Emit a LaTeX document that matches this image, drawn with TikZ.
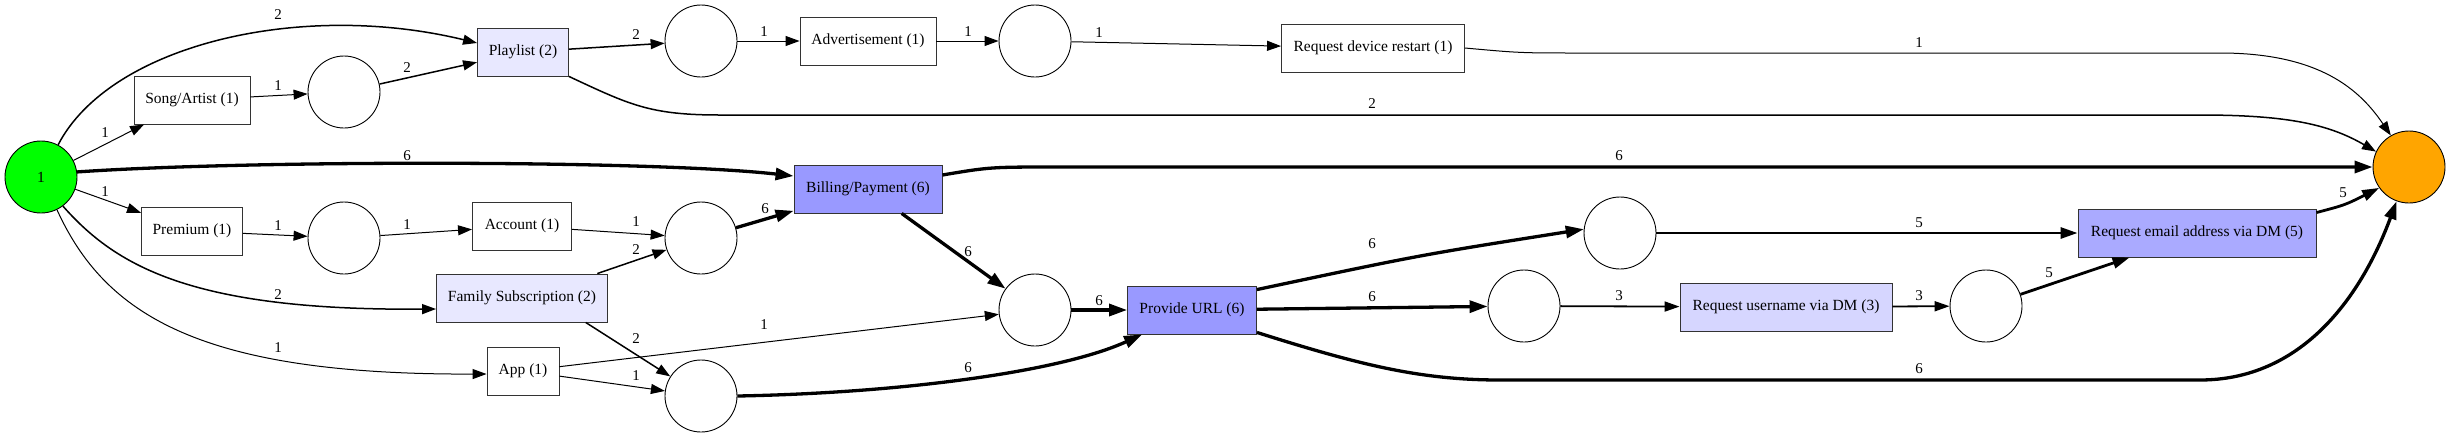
\documentclass[tikz,border=0pt]{standalone}
\usepackage{fontspec}
\setmainfont{Liberation Serif}
\usetikzlibrary{arrows.meta}
\definecolor{startgreen}{HTML}{00FF00}
\definecolor{endorange}{HTML}{FFA500}
\definecolor{freqsix}{HTML}{9999FF}
\definecolor{freqfive}{HTML}{AAAAFF}
\definecolor{freqthree}{HTML}{D6D6FF}
\definecolor{freqtwo}{HTML}{E8E8FF}
\tikzset{
  trans/.style={draw=black!80,line width=0.9pt,rectangle,minimum height=48pt,inner sep=2pt,fill=white},
  place/.style={draw,circle,line width=0.9pt,minimum size=72pt,inner sep=0pt,fill=white},
  lbl/.style={inner sep=1pt,font=\fontsize{15}{17}\selectfont},
  w1/.style={line width=1pt,-{Triangle[length=14pt,width=10pt]}},
  w2/.style={line width=1.5pt,-{Triangle[length=14pt,width=10pt]}},
  w3/.style={line width=1.8pt,-{Triangle[length=15pt,width=10pt]}},
  w5/.style={line width=2.8pt,-{Triangle[length=17pt,width=11pt]}},
  w6/.style={line width=3.3pt,-{Triangle[length=18pt,width=12pt]}}
}
\begin{document}
\begin{tikzpicture}[x=1pt,y=-1pt,font=\fontsize{15.5}{18}\selectfont]
  \useasboundingbox (0,0) rectangle (2451,437);
  \node[place,fill=startgreen] (src) at (41,177) {1};
  \node[trans,minimum width=116pt] (song) at (192,100) {Song/Artist (1)};
  \node[place] (pa) at (344,92) {};
  \node[trans,fill=freqtwo,minimum width=91pt] (play) at (523,52) {Playlist (2)};
  \node[trans,minimum width=101pt] (prem) at (192,231) {Premium (1)};
  \node[place] (pb) at (344,238) {};
  \node[trans,minimum width=99pt] (acct) at (522,226) {Account (1)};
  \node[trans,fill=freqtwo,minimum width=171pt] (fam) at (522,298) {Family Subscription (2)};
  \node[trans,minimum width=72pt] (app) at (523,371) {App (1)};
  \node[place] (pc) at (701,41) {};
  \node[trans,minimum width=136pt] (adv) at (868,41) {Advertisement (1)};
  \node[place] (pd) at (701,238) {};
  \node[trans,fill=freqsix,minimum width=148pt] (bill) at (868,189) {Billing/Payment (6)};
  \node[place] (pe) at (701,396) {};
  \node[place] (pf) at (1035,41) {};
  \node[trans,minimum width=183pt] (restart) at (1373,48) {Request device restart (1)};
  \node[place] (pg) at (1035,310) {};
  \node[trans,fill=freqsix,minimum width=129pt] (url) at (1192,310) {Provide URL (6)};
  \node[place] (ph) at (1620,233) {};
  \node[place] (pi) at (1524,306) {};
  \node[trans,fill=freqthree,minimum width=212pt] (user) at (1786,307) {Request username via DM (3)};
  \node[place] (pj) at (1986,306) {};
  \node[trans,fill=freqfive,minimum width=238pt] (email) at (2197,233) {Request email address via DM (5)};
  \node[place,fill=endorange] (sink) at (2409,167) {};

  \draw[w2] (src.62) .. controls (110,45) and (300,0) .. ([yshift=9pt]play.west);
  \node[lbl] (f1) at (278,15) {2};
  \draw[w1] (src) -- (song);
  \node[lbl] (f2) at (105,133) {1};
  \draw[w6] (src.8) .. controls (250,160) and (650,160) .. ([yshift=13pt]bill.west);
  \node[lbl] (f3) at (407,156) {6};
  \draw[w1] (src) -- (prem);
  \node[lbl] (f4) at (105,192) {1};
  \draw[w2] (src.-53) .. controls (115,265) and (190,311) .. ([yshift=-11pt]fam.west);
  \node[lbl] (f5) at (278,295) {2};
  \draw[w1] (src.-64) .. controls (105,315) and (200,375) .. ([yshift=-3pt]app.west);
  \node[lbl] (f6) at (278,348) {1};
  \draw[w1] (song) -- (pa);
  \node[lbl] (f7) at (278,86) {1};
  \draw[w2] (pa) -- (play);
  \node[lbl] (f8) at (407,68) {2};
  \draw[w1] (prem) -- (pb);
  \node[lbl] (f9) at (278,226) {1};
  \draw[w1] (pb) -- (acct);
  \node[lbl] (f10) at (407,225) {1};
  \draw[w2] (play) -- (pc);
  \node[lbl] (f11) at (636,35) {2};
  \draw[w2] (play.south east) .. controls (630,105) and (650,115) .. (720,115) -- (2200,115)
       .. controls (2290,115) and (2330,125) .. (sink.155);
  \node[lbl] (f12) at (1372,104) {2};
  \draw[w1] (acct) -- (pd);
  \node[lbl] (f13) at (636,222) {1};
  \draw[w2] (fam.18) -- (pd);
  \node[lbl] (f14) at (636,250) {2};
  \draw[w2] (fam.-21.5) -- (pe);
  \node[lbl] (f15) at (636,339) {2};
  \draw[w1] (app) -- (pg);
  \node[lbl] (f16) at (764,325) {1};
  \draw[w1] (app) -- (pe);
  \node[lbl] (f17) at (636,376) {1};
  \draw[w1] (pc) -- (adv);
  \node[lbl] (f18) at (764,32) {1};
  \draw[w6] (pd) -- (bill);
  \node[lbl] (f19) at (765,209) {6};
  \draw[w6] (bill) -- (pg);
  \node[lbl] (f20) at (968,252) {6};
  \draw[w6] ([yshift=14pt]bill.east) .. controls (990,167) .. (1060,167) -- (sink);
  \node[lbl] (f21) at (1619,156) {6};
  \draw[w6] (pe.east) .. controls (900,393) and (1060,372) .. ([xshift=15pt]url.south west);
  \node[lbl] (f22) at (968,368) {6};
  \draw[w1] (adv) -- (pf);
  \node[lbl] (f23) at (968,32) {1};
  \draw[w1] (pf) -- (restart);
  \node[lbl] (f24) at (1099,33) {1};
  \draw[w6] (pg) -- (url);
  \node[lbl] (f25) at (1099,301) {6};
  \draw[w1] (restart.east) .. controls (1520,53) .. (1580,53) -- (2220,53)
       .. controls (2320,53) and (2360,90) .. (sink.120);
  \node[lbl] (f26) at (1919,43) {1};
  \draw[w6] ([yshift=-4pt]url.north east) .. controls (1420,255) .. (ph.174);
  \node[lbl] (f27) at (1372,244) {6};
  \draw[w6] (url) -- (pi);
  \node[lbl] (f28) at (1372,297) {6};
  \draw[w6] ([yshift=2pt]url.south east) .. controls (1360,365) and (1420,380) .. (1500,380) -- (2200,380)
       .. controls (2300,380) and (2360,300) .. (sink.250);
  \node[lbl] (f29) at (1919,369) {6};
  \draw[w5] (ph) -- (email);
  \node[lbl] (f30) at (1919,223) {5};
  \draw[w3] (pi) -- (user);
  \node[lbl] (f31) at (1619,296) {3};
  \draw[w3] (user) -- (pj);
  \node[lbl] (f32) at (1919,296) {3};
  \draw[w5] (pj) -- ([xshift=52pt]email.south west);
  \node[lbl] (f33) at (2049,273) {5};
  \draw[w5] ([yshift=-4pt]email.north east) .. controls (2345,205) .. (sink.215);
  \node[lbl] (f34) at (2343,193) {5};
\end{tikzpicture}
\end{document}
